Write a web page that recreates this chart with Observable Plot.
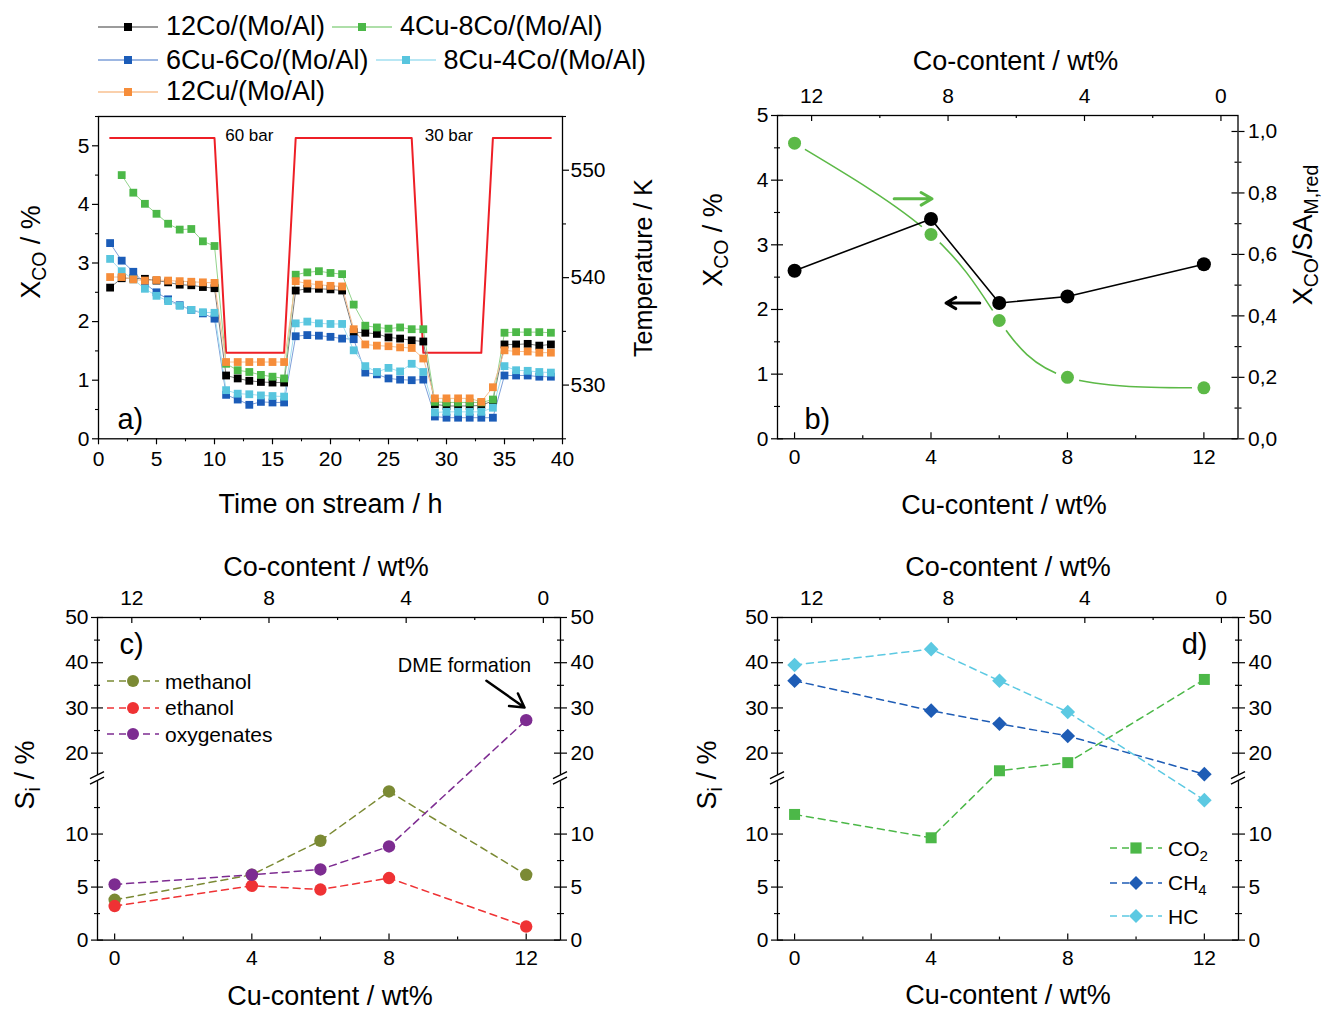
<!DOCTYPE html>
<html><head><meta charset="utf-8">
<script src="https://cdn.jsdelivr.net/npm/d3@7"></script>
<script src="https://cdn.jsdelivr.net/npm/@observablehq/plot@0.6"></script>
<style>
body{margin:0;background:#fff;font-family:"Liberation Sans",Arial,Helvetica,sans-serif;}
#root{position:relative;width:1325px;height:1010px;overflow:hidden;background:#fff;}
.lab{position:absolute;white-space:nowrap;line-height:1;color:#000;}
sub{font-size:0.72em;vertical-align:baseline;position:relative;top:0.32em;}
.leg{position:absolute;display:flex;align-items:center;white-space:nowrap;color:#000;line-height:1;}
.leg svg{display:block;flex:none;}
</style></head><body><div id="root"></div>
<script>
// ================= DATA =================
const catalysts = ["12Co/(Mo/Al)", "4Cu-8Co/(Mo/Al)", "6Cu-6Co/(Mo/Al)", "8Cu-4Co/(Mo/Al)", "12Cu/(Mo/Al)"];
const timeOnStream = [1,2,3,4,5,6,7,8,9,10,11,12,13,14,15,16,17,18,19,20,21,22,23,24,25,26,27,28,29,30,31,32,33,34,35,36,37,38,39];
const xco12Co   = [2.58,2.74,2.74,2.73,2.70,2.67,2.63,2.62,2.59,2.57, 1.08,1.03,0.99,0.97,0.96,0.96, 2.53,2.56,2.56,2.55,2.53, 1.82,1.81,1.79,1.73,1.71,1.68,1.66, 0.59,0.56,0.56,0.56,0.57, 0.65, 1.61,1.61,1.62,1.59,1.61];
const xco4Cu8Co = [null,4.50,4.20,4.01,3.84,3.67,3.57,3.58,3.37,3.29, 1.28,1.17,1.14,1.09,1.06,1.03, 2.80,2.84,2.86,2.83,2.81, 2.29,1.93,1.90,1.88,1.90,1.87,1.87, 0.63,0.62,0.62,0.62,0.62, 0.67, 1.81,1.82,1.82,1.82,1.81];
const xco6Cu6Co = [3.34,3.04,2.85,2.65,2.50,2.38,2.28,2.20,2.14,2.05, 0.75,0.67,0.58,0.63,0.62,0.62, 1.75,1.77,1.76,1.74,1.71, 1.70,1.13,1.10,1.03,1.01,1.00,1.01, 0.38,0.36,0.36,0.36,0.36, 0.36, 1.08,1.08,1.08,1.06,1.06];
const xco8Cu4Co = [3.07,2.86,2.72,2.56,2.44,2.35,2.27,2.20,2.16,2.15, 0.83,0.77,0.76,0.74,0.73,0.72, 1.97,2.00,1.97,1.96,1.96, 1.51,1.24,1.14,1.21,1.15,1.28,1.14, 0.45,0.46,0.46,0.46,0.46, 0.53, 1.24,1.17,1.16,1.14,1.13];
const xco12Cu   = [2.76,2.76,2.72,2.70,2.71,2.70,2.69,2.68,2.67,2.66, 1.31,1.31,1.31,1.31,1.31,1.31, 2.69,2.65,2.63,2.61,2.60, 1.87,1.61,1.59,1.58,1.56,1.55,1.37, 0.69,0.69,0.69,0.69,0.63, 0.88, 1.51,1.49,1.49,1.47,1.47];
const tempTime = [1, 10, 11, 16, 17, 27, 28, 33, 34, 39];
const tempK    = [553, 553, 533, 533, 553, 553, 533, 533, 553, 553];
const pressureText = ["60 bar", "30 bar"];
const pressureTime = [13, 30.2];

const cuContent = [0, 4, 6, 8, 12];
const xcoConv   = [2.6, 3.4, 2.1, 2.2, 2.7];
const xcoPerSA  = [0.962, 0.665, 0.385, 0.200, 0.166];
const selNames  = ["methanol", "ethanol", "oxygenates"];
const sMethanol = [3.80, 6.16, 9.37, 14.02, 6.16];
const sEthanol  = [3.21, 5.12, 4.77, 5.85, 1.28];
const sOxygen   = [5.25, 6.16, 6.66, 8.83, 27.3];
const gasNames  = ["CO2", "CH4", "HC"];
const sCO2 = [11.85, 9.65, 16.1, 17.9, 36.3];
const sCH4 = [36.0, 29.4, 26.5, 23.8, 15.35];
const sHC  = [39.5, 43.0, 36.0, 29.1, 13.2];

// tick values / labels
const timeTicks = [0,5,10,15,20,25,30,35,40];
const timeMinor = [2.5,7.5,12.5,17.5,22.5,27.5,32.5,37.5];
const xcoTicks = [0,1,2,3,4,5];
const xcoMinorA = [0.5,1.5,2.5,3.5,4.5,5.5];
const xcoMinorB = [0.5,1.5,2.5,3.5,4.5];
const tempTicks = [530,540,550];
const tempMinor = [525,535,545,555];
const cuTicks = [0,4,8,12];
const cuMinor = [2,6,10];
const coTickLabels = [12,8,4,0];
const coMinorLabels = [10,6,2];
const ratioTicks = [0,0.2,0.4,0.6,0.8,1.0];
const ratioMinor = [0.1,0.3,0.5,0.7,0.9];
const selTicks = [0,5,10,20,30,40,50];
const selMinor = [2.5,7.5,12.5,25,35,45];
const breakValue = 15;
const dmeNote = {text: "DME formation", x: 10.2, y: 39.3, ax1: 10.84, ay1: 36.0, ax2: 11.95, ay2: 30.1};
const arrowLeft  = {x1: 5.43, x2: 4.44, y: 2.10};
const arrowRight = {x1: 2.92, x2: 4.03, y: 0.781};

// ================= STYLE / LAYOUT =================
const FONT = '"Liberation Sans", Arial, Helvetica, sans-serif';
const TFS = 21;
const markColor = ["#000000", "#4cb848", "#1b5cb8", "#58c5de", "#f68d3a"];
const lineColor = ["#7a7a7a", "#93d48d", "#7d9fd8", "#a2dff0", "#f8c091"];
const root = document.getElementById("root");

function frameBox(F) {
  const ml = 70, mr = 75, mt = 45, mb = 45;
  return {left: F.L - ml, top: F.T - mt,
    opts: {width: F.R - F.L + ml + mr, height: F.B - F.T + mt + mb,
      marginLeft: ml, marginRight: mr, marginTop: mt, marginBottom: mb,
      style: {background: "transparent", fontFamily: FONT, fontSize: TFS + "px", color: "#000", overflow: "visible"}}};
}
function mount(svg, box) {
  svg.style.position = "absolute"; svg.style.left = box.left + "px"; svg.style.top = box.top + "px";
  svg.style.maxWidth = "none";
  root.appendChild(svg);
}
const blank = () => "";
function outAxis(A, anchor, major, minor, fmt, pad) {
  const m = [A({anchor, ticks: major, tickSize: 6, tickPadding: pad, tickFormat: fmt, label: null, fontSize: TFS, strokeWidth: 1.2})];
  if (minor) m.push(A({anchor, ticks: minor, tickSize: 3, tickFormat: blank, label: null, strokeWidth: 1.1}));
  return m;
}
function inTicksX(ticks, side, len, H) {
  return Plot.ruleX(ticks, side === "bottom" ? {insetTop: H - len, strokeWidth: 1.2} : {insetBottom: H - len, strokeWidth: 1.2});
}
function inTicksY(ticks, side, len, W) {
  return Plot.ruleY(ticks, side === "left" ? {insetRight: W - len, strokeWidth: 1.2} : {insetLeft: W - len, strokeWidth: 1.2});
}
function label(html, x, y, size, rotate) {
  const d = document.createElement("div");
  d.className = "lab"; d.innerHTML = html;
  d.style.left = x + "px"; d.style.top = y + "px"; d.style.fontSize = size + "px";
  d.style.transform = "translate(-50%,-50%)" + (rotate ? " rotate(-90deg)" : "");
  root.appendChild(d);
}

// ================= PANEL A =================
const FA = {L: 97.5, R: 561.5, T: 116, B: 438.3};
const bA = frameBox(FA);
const seriesA = [xco12Co, xco4Cu8Co, xco6Cu6Co, xco8Cu4Co, xco12Cu];
const rowsA = [];
catalysts.forEach((name, k) => timeOnStream.forEach((t, i) => {
  const v = seriesA[k][i]; if (v != null) rowsA.push({name, k, t, v});
}));
const tempRows = tempTime.map((t, i) => ({t, T: tempK[i]}));
const pressRows = pressureText.map((s, i) => ({s, t: pressureTime[i]}));

const plotA2 = Plot.plot({
  ...bA.opts,
  x: {domain: [0, 40], axis: null}, y: {domain: [525, 555], axis: null},
  marks: [
    Plot.line(tempRows, {x: "t", y: "T", stroke: "#ee1f26", strokeWidth: 2}),
    ...outAxis(Plot.axisY, "right", tempTicks, tempMinor, d => String(d), 2),
    Plot.text(pressRows, {x: "t", text: "s", frameAnchor: "top", dy: 12, fontSize: 17, fill: "#000"})
  ]
});
mount(plotA2, bA);

const plotA1 = Plot.plot({
  ...bA.opts,
  x: {domain: [0, 40], axis: null}, y: {domain: [0, 5.5], axis: null},
  marks: [
    Plot.frame({stroke: "#000", strokeWidth: 1.3}),
    ...outAxis(Plot.axisX, "bottom", timeTicks, timeMinor, d => String(d), 6),
    ...outAxis(Plot.axisY, "left", xcoTicks, xcoMinorA, d => String(d), 3),
    ...catalysts.map((name, k) => Plot.line(rowsA.filter(d => d.k === k), {x: "t", y: "v", stroke: lineColor[k], strokeWidth: 1})),
    ...catalysts.map((name, k) => Plot.dot(rowsA.filter(d => d.k === k), {x: "t", y: "v", symbol: "square", r: 4.4, fill: markColor[k], stroke: null})),
    Plot.text(["a)"], {frameAnchor: "bottom-left", textAnchor: "start", lineAnchor: "bottom", dx: 19, dy: -10, fontSize: 29, fill: "#000"})
  ]
});
mount(plotA1, bA);

// legend for panel a
const legRows = [[0, 1], [2, 3], [4]];
const legY = [26.7, 60, 91.7];
legRows.forEach((row, r) => {
  const div = document.createElement("div");
  div.className = "leg";
  div.style.left = "98px"; div.style.top = (legY[r] - 16) + "px"; div.style.height = "32px";
  div.style.fontSize = "27px";
  row.forEach((k, j) => {
    const s = d3.create("svg").attr("width", 60).attr("height", 14).style("margin-left", j ? "7px" : "0px");
    s.append("line").attr("x1", 0).attr("x2", 60).attr("y1", 7).attr("y2", 7).attr("stroke", lineColor[k]).attr("stroke-width", 1.6);
    s.append("rect").attr("x", 26).attr("y", 3).attr("width", 8).attr("height", 8).attr("fill", markColor[k]);
    div.appendChild(s.node());
    const sp = document.createElement("span"); sp.textContent = catalysts[k]; sp.style.marginLeft = "8px";
    div.appendChild(sp);
  });
  root.appendChild(div);
});
label("Time on stream / h", 330.5, 504, 27);
label("X<sub>CO</sub> / %", 31, 252, 27, true);
label("Temperature / K", 643, 268, 25, true);

// ================= PANEL B =================
const FB = {L: 776.5, R: 1237, T: 115, B: 438.3};
const bB = frameBox(FB);
const WB = FB.R - FB.L, HB = FB.B - FB.T;
const rowsB = cuContent.map((cu, i) => ({cu, x: xcoConv[i], r: xcoPerSA[i]}));
const fmtComma = d => d.toFixed(1).replace(".", ",");

const plotB2 = Plot.plot({
  ...bB.opts,
  x: {domain: [-0.5, 13], axis: null}, y: {domain: [0, 1.052], axis: null},
  marks: [
    Plot.line(rowsB, {x: "cu", y: "r", curve: "natural", stroke: "#5cb947", strokeWidth: 1.6}),
    Plot.dot(rowsB, {x: "cu", y: "r", r: 12, fill: "white", stroke: null}),
    Plot.dot(rowsB, {x: "cu", y: "r", r: 6.5, fill: "#5cb947", stroke: null}),
    Plot.arrow([arrowRight], {x1: "x1", x2: "x2", y1: "y", y2: "y", stroke: "#5cb947", strokeWidth: 3, headLength: 9}),
    ...outAxis(Plot.axisY, "right", ratioTicks, ratioMinor, fmtComma, 4),
    inTicksY(ratioTicks, "right", 6, WB), inTicksY(ratioMinor, "right", 3, WB)
  ]
});
mount(plotB2, bB);

const plotB1 = Plot.plot({
  ...bB.opts,
  x: {domain: [-0.5, 13], axis: null}, y: {domain: [0, 5], axis: null},
  marks: [
    Plot.frame({stroke: "#000", strokeWidth: 1.3}),
    Plot.axisX({anchor: "bottom", ticks: cuTicks, tickSize: 0, tickPadding: 10, tickFormat: d => String(d), label: null, fontSize: TFS}),
    inTicksX(cuTicks, "bottom", 6, HB), inTicksX(cuMinor, "bottom", 3, HB),
    Plot.axisX({anchor: "top", ticks: coTickLabels.map(c => 12.5 - c), tickSize: 0, tickPadding: 12, tickFormat: d => String(12.5 - d), label: null, fontSize: TFS}),
    inTicksX(coTickLabels.map(c => 12.5 - c), "top", 6, HB), inTicksX(coMinorLabels.map(c => 12.5 - c), "top", 3, HB),
    ...outAxis(Plot.axisY, "left", xcoTicks, xcoMinorB, d => String(d), 3),
    inTicksY(xcoTicks, "left", 6, WB), inTicksY(xcoMinorB, "left", 3, WB),
    Plot.line(rowsB, {x: "cu", y: "x", stroke: "#000", strokeWidth: 1.6}),
    Plot.dot(rowsB, {x: "cu", y: "x", r: 7, fill: "#000", stroke: null}),
    Plot.arrow([arrowLeft], {x1: "x1", x2: "x2", y1: "y", y2: "y", stroke: "#000", strokeWidth: 3, headLength: 9}),
    Plot.text(["b)"], {frameAnchor: "bottom-left", textAnchor: "start", lineAnchor: "bottom", dx: 27, dy: -10, fontSize: 29, fill: "#000"})
  ]
});
mount(plotB1, bB);
label("Co-content / wt%", 1015.5, 61, 27);
label("Cu-content / wt%", 1004, 505, 27);
label("X<sub>CO</sub> / %", 713, 240, 27, true);
label("X<sub>CO</sub>/SA<sub>M,red</sub>", 1303, 235, 27, true);

// ================= PANELS C & D (broken y axis) =================
// broken axis: lower segment 0-15 and upper segment 15-50 drawn with different
// pixel densities; values are mapped to a display coordinate before Plot's linear y scale
const LOW_K = 10.6, UP_K = 4.52, GAP = 5.3;
const brk = v => v <= breakValue ? v * LOW_K : breakValue * LOW_K + GAP + (v - breakValue) * UP_K;
const brkInv = u => u <= breakValue * LOW_K ? u / LOW_K : breakValue + (u - breakValue * LOW_K - GAP) / UP_K;
const fmtBrk = u => String(Math.round(brkInv(u) * 10) / 10);

function brokenPanel(F, series, names, colors, symbols, sizes, extraMarks) {
  const b = frameBox(F);
  const W = F.R - F.L, H = F.B - F.T;
  const rows = [];
  names.forEach((n, k) => cuContent.forEach((cu, i) => rows.push({n, k, cu, v: series[k][i]})));
  const majorU = selTicks.map(brk), minorU = selMinor.map(brk);
  const breakMark = (index, scales, values, dims) => {
    const g = d3.create("svg:g");
    const y1 = scales.y(brk(breakValue)), y2 = scales.y(brk(breakValue) + GAP);
    const ym = (y1 + y2) / 2;
    for (const x of [dims.marginLeft, dims.width - dims.marginRight]) {
      g.append("rect").attr("x", x - 2.5).attr("y", Math.min(y1, y2) - 0.5).attr("width", 5).attr("height", Math.abs(y1 - y2) + 1).attr("fill", "white");
      for (const o of [-2.7, 2.7]) {
        g.append("line").attr("x1", x - 7).attr("y1", ym + o + 3.5).attr("x2", x + 7).attr("y2", ym + o - 3.5)
          .attr("stroke", "#000").attr("stroke-width", 1.3);
      }
    }
    return g.node();
  };
  const svg = Plot.plot({
    ...b.opts,
    x: {domain: [-0.5, 13], axis: null}, y: {domain: [0, brk(50)], axis: null},
    marks: [
      Plot.frame({stroke: "#000", strokeWidth: 1.3}),
      Plot.axisX({anchor: "bottom", ticks: cuTicks, tickSize: 0, tickPadding: 10, tickFormat: d => String(d), label: null, fontSize: TFS}),
      inTicksX(cuTicks, "bottom", 6, H), inTicksX(cuMinor, "bottom", 3, H),
      Plot.axisX({anchor: "top", ticks: coTickLabels.map(c => 12.5 - c), tickSize: 0, tickPadding: 12, tickFormat: d => String(12.5 - d), label: null, fontSize: TFS}),
      inTicksX(coTickLabels.map(c => 12.5 - c), "top", 6, H), inTicksX(coMinorLabels.map(c => 12.5 - c), "top", 3, H),
      ...outAxis(Plot.axisY, "left", majorU, minorU, fmtBrk, 3),
      inTicksY(majorU, "left", 6, W), inTicksY(minorU, "left", 3, W),
      ...outAxis(Plot.axisY, "right", majorU, minorU, fmtBrk, 4),
      inTicksY(majorU, "right", 6, W), inTicksY(minorU, "right", 3, W),
      breakMark,
      ...names.map((n, k) => Plot.line(rows.filter(d => d.k === k), {x: "cu", y: d => brk(d.v), stroke: colors[k], strokeWidth: 1.5, strokeDasharray: "7,5"})),
      ...names.map((n, k) => Plot.dot(rows.filter(d => d.k === k), {x: "cu", y: d => brk(d.v), r: sizes[k], symbol: symbols[k], fill: colors[k], stroke: null})),
      ...extraMarks
    ]
  });
  mount(svg, b);
}

const FC = {L: 97, R: 560, T: 616.7, B: 939.3};
const colC = ["#7b8a34", "#ef3234", "#7d2c91"];
brokenPanel(FC, [sMethanol, sEthanol, sOxygen], selNames, colC, ["circle", "circle", "circle"], [6.2, 6.2, 6.2], [
  Plot.text([dmeNote], {x: "x", y: d => brk(d.y), text: "text", fontSize: 20, fill: "#000"}),
  Plot.arrow([dmeNote], {x1: "ax1", y1: d => brk(d.ay1), x2: "ax2", y2: d => brk(d.ay2), stroke: "#000", strokeWidth: 2.5, headLength: 10}),
  Plot.text(["c)"], {frameAnchor: "top-left", textAnchor: "start", lineAnchor: "top", dx: 22, dy: 16, fontSize: 29, fill: "#000"})
]);
label("Co-content / wt%", 326, 567, 27);
label("Cu-content / wt%", 330, 996, 27);
label("S<sub>i</sub> / %", 25, 775, 27, true);

const FD = {L: 777, R: 1238, T: 616.7, B: 939.3};
const colD = ["#4cb848", "#1e5cb5", "#5cc9e2"];
brokenPanel(FD, [sCO2, sCH4, sHC], gasNames, colD, ["square", "diamond2", "diamond2"], [6.2, 6.6, 6.6], [
  Plot.text(["d)"], {frameAnchor: "top-right", textAnchor: "end", lineAnchor: "top", dx: -31, dy: 16, fontSize: 29, fill: "#000"})
]);
label("Co-content / wt%", 1008, 567, 27);
label("Cu-content / wt%", 1008, 995, 27);
label("S<sub>i</sub> / %", 707, 775, 27, true);

// legends for c and d
function smallLegend(x, ys, names, colors, shapes, html) {
  names.forEach((n, k) => {
    const div = document.createElement("div");
    div.className = "leg";
    div.style.left = x + "px"; div.style.top = (ys[k] - 13) + "px"; div.style.height = "26px"; div.style.fontSize = "21px";
    const s = d3.create("svg").attr("width", 52).attr("height", 18);
    s.append("line").attr("x1", 0).attr("x2", 52).attr("y1", 9).attr("y2", 9).attr("stroke", colors[k]).attr("stroke-width", 1.5).attr("stroke-dasharray", "7,5");
    const sym = shapes[k] === "circle" ? d3.symbolCircle : shapes[k] === "square" ? d3.symbolSquare : d3.symbolDiamond2;
    const sz = shapes[k] === "circle" ? Math.PI * 36 : Math.PI * 40;
    s.append("path").attr("transform", "translate(26,9)").attr("d", d3.symbol(sym, sz)()).attr("fill", colors[k]);
    div.appendChild(s.node());
    const sp = document.createElement("span"); sp.innerHTML = html[k]; sp.style.marginLeft = "6px";
    div.appendChild(sp);
    root.appendChild(div);
  });
}
smallLegend(107, [681, 707.7, 734.3], selNames, colC, ["circle", "circle", "circle"], selNames);
smallLegend(1110, [848.3, 882.7, 916], gasNames, colD, ["square", "diamond2", "diamond2"], ["CO<sub>2</sub>", "CH<sub>4</sub>", "HC"]);
</script></body></html>
